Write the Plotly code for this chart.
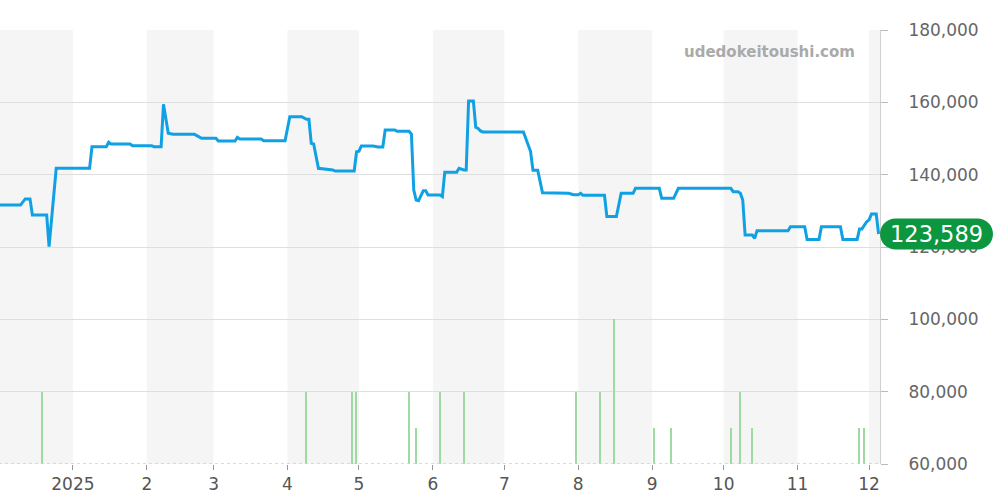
import plotly.graph_objects as go

# ---- data ----
price_dates = [
    "2024-12-01", "2024-12-10", "2024-12-12", "2024-12-14", "2024-12-15", "2024-12-21",
    "2024-12-22", "2024-12-25", "2025-01-08", "2025-01-09", "2025-01-15", "2025-01-16",
    "2025-01-17", "2025-01-25", "2025-01-26", "2025-02-03", "2025-02-04", "2025-02-07",
    "2025-02-08", "2025-02-10", "2025-02-12", "2025-02-21", "2025-02-24", "2025-03-02",
    "2025-03-03", "2025-03-10", "2025-03-11", "2025-03-12", "2025-03-21", "2025-03-22",
    "2025-03-31", "2025-04-02", "2025-04-07", "2025-04-09", "2025-04-10", "2025-04-11",
    "2025-04-12", "2025-04-14", "2025-04-20", "2025-04-21", "2025-04-29", "2025-04-30",
    "2025-05-01", "2025-05-02", "2025-05-07", "2025-05-09", "2025-05-11", "2025-05-12",
    "2025-05-16", "2025-05-17", "2025-05-22", "2025-05-23", "2025-05-24", "2025-05-25",
    "2025-05-26", "2025-05-28", "2025-05-29", "2025-05-30", "2025-06-04", "2025-06-05",
    "2025-06-06", "2025-06-11", "2025-06-12", "2025-06-14", "2025-06-15", "2025-06-16",
    "2025-06-18", "2025-06-19", "2025-06-20", "2025-06-21", "2025-06-22", "2025-07-09",
    "2025-07-11", "2025-07-12", "2025-07-13", "2025-07-15", "2025-07-17", "2025-07-22",
    "2025-07-28", "2025-07-30", "2025-08-01", "2025-08-02", "2025-08-03", "2025-08-12",
    "2025-08-13", "2025-08-17", "2025-08-19", "2025-08-24", "2025-08-25", "2025-09-04",
    "2025-09-05", "2025-09-10", "2025-09-12", "2025-10-04", "2025-10-05", "2025-10-07",
    "2025-10-08", "2025-10-09", "2025-10-10", "2025-10-13", "2025-10-14", "2025-10-15",
    "2025-10-28", "2025-10-29", "2025-11-04", "2025-11-05", "2025-11-10", "2025-11-11",
    "2025-11-19", "2025-11-20", "2025-11-26", "2025-11-27", "2025-11-28", "2025-11-30",
    "2025-12-01", "2025-12-02", "2025-12-04", "2025-12-05",
]
price_values = [
    131600, 131600, 133300, 133300, 128850, 128850,
    120100, 141750, 141750, 147730, 147730, 148950,
    148480, 148480, 148000, 148000, 147730, 147730,
    159450, 151430, 151150, 151150, 150050, 150050,
    149300, 149300, 150300, 149860, 149860, 149400,
    149400, 156030, 156030, 155300, 155300, 148660,
    148480, 141750, 141300, 141000, 141000, 146350,
    146500, 147900, 147900, 147650, 147650, 152350,
    152350, 151980, 151980, 151240, 135760, 133000,
    132800, 135570, 135570, 134380, 134380, 133920,
    140650, 140650, 141750, 141300, 141300, 160370,
    160370, 153100, 152800, 152100, 151800, 151800,
    148200, 146400, 141200, 141200, 135000, 134850,
    134850, 134460, 134460, 134850, 134300, 134300,
    128400, 128400, 134850, 134850, 136230, 136230,
    133460, 133460, 136230, 136230, 135290, 135290,
    134850, 133000, 123300, 123300, 122400, 124500,
    124500, 125600, 125600, 122100, 122100, 125600,
    125600, 122100, 122100, 125000, 125000, 127000,
    127500, 129100, 129100, 123589,
]

volume_dates = [
    "2024-12-19", "2025-04-09", "2025-04-28", "2025-04-30", "2025-05-22", "2025-05-25",
    "2025-06-04", "2025-06-14", "2025-07-31", "2025-08-10", "2025-08-16", "2025-09-02",
    "2025-09-09", "2025-10-04", "2025-10-08", "2025-10-13", "2025-11-27", "2025-11-29",
]
volume_values = [2, 2, 2, 2, 2, 1, 2, 2, 2, 2, 4, 1, 1, 1, 2, 1, 1, 1]
volume_baseline_dates = ["2024-12-01", "2025-12-05"]
volume_baseline_values = [0, 0]

month_starts = [
    "2024-12-01", "2025-01-01", "2025-02-01", "2025-03-01", "2025-04-01", "2025-05-01",
    "2025-06-01", "2025-07-01", "2025-08-01", "2025-09-01", "2025-10-01", "2025-11-01",
    "2025-12-01", "2026-01-01",
]
x_tick_vals = month_starts[1:13]
x_tick_text = ["2025", "2", "3", "4", "5", "6", "7", "8", "9", "10", "11", "12"]
y_tick_vals = [60000, 80000, 100000, 120000, 140000, 160000, 180000]
y_tick_text = ["60,000", "80,000", "100,000", "120,000", "140,000", "160,000", "180,000"]

x_range = ["2024-12-01 10:00", "2025-12-05 14:00"]
y_range = [60000, 180000]
last_price = price_values[-1]
watermark = "udedokeitoushi.com"

# ---- figure ----
fig = go.Figure()

fig.add_trace(go.Scatter(
    x=volume_baseline_dates, y=volume_baseline_values, yaxis="y2", mode="lines",
    line=dict(color="#b5e2b7", width=1.5, dash="dot"), hoverinfo="skip", showlegend=False,
))
fig.add_trace(go.Bar(
    x=volume_dates, y=volume_values, yaxis="y2",
    width=0.55 * 86400000, marker=dict(color="#9fdaa3", line=dict(width=0)),
    showlegend=False,
))
fig.add_trace(go.Scatter(
    x=price_dates, y=price_values, mode="lines",
    line=dict(color="#10a0e4", width=3), showlegend=False,
))

shapes = []
for i in range(0, len(month_starts) - 1, 2):
    shapes.append(dict(
        type="rect", xref="x", yref="paper", x0=month_starts[i], x1=month_starts[i + 1],
        y0=0, y1=1, fillcolor="#f5f5f5", line=dict(width=0), layer="below",
    ))

# price badge (pill) at right side
plot_w = 880.0
plot_h = 434.0
px_per_val = plot_h / (y_range[1] - y_range[0])
rx = 15.5 / plot_w
hy = 15.5 / px_per_val
xl = 1.0 + rx
xr = 993.0 / plot_w - rx
y0 = last_price
k = 0.5523
path = (
    f"M {xl},{y0 + hy} L {xr},{y0 + hy} "
    f"C {xr + k * rx},{y0 + hy} {xr + rx},{y0 + k * hy} {xr + rx},{y0} "
    f"C {xr + rx},{y0 - k * hy} {xr + k * rx},{y0 - hy} {xr},{y0 - hy} "
    f"L {xl},{y0 - hy} "
    f"C {xl - k * rx},{y0 - hy} {xl - rx},{y0 - k * hy} {xl - rx},{y0} "
    f"C {xl - rx},{y0 + k * hy} {xl - k * rx},{y0 + hy} {xl},{y0 + hy} Z"
)
shapes.append(dict(type="path", xref="paper", yref="y", path=path,
                   fillcolor="#0b963f", line=dict(width=0), layer="above"))

fig.update_layout(
    width=1000, height=500,
    margin=dict(l=0, r=120, t=30, b=36),
    paper_bgcolor="white", plot_bgcolor="white",
    font=dict(family="DejaVu Sans", size=17, color="#666"),
    shapes=shapes,
    bargap=0,
    xaxis=dict(
        type="date", range=x_range, tickvals=x_tick_vals, ticktext=x_tick_text,
        showgrid=False, zeroline=False, ticks="outside", ticklen=5, tickcolor="#999",
        tickfont=dict(size=17, color="#555"), showline=False,
    ),
    yaxis=dict(
        range=y_range, side="right", tickvals=y_tick_vals, ticktext=y_tick_text,
        showgrid=True, gridcolor="#dedede", gridwidth=1, zeroline=False,
        ticks="outside", ticklen=7, tickcolor="#bbb", showline=True, linecolor="#d0d0d0",
        tickfont=dict(size=17, color="#666"), ticklabelstandoff=17,
    ),
    yaxis2=dict(
        range=[0, 12], overlaying="y", side="left", visible=False,
    ),
    annotations=[
        dict(text=watermark, xref="paper", yref="paper", x=857 / plot_w, y=1 - 22 / plot_h,
             xanchor="right", yanchor="middle", showarrow=False,
             font=dict(family="DejaVu Sans", size=15, color="#aaaaaa", weight="bold")),
        dict(text=f"{last_price:,}", xref="paper", yref="y", x=936.5 / plot_w, y=last_price,
             xanchor="center", yanchor="middle", showarrow=False,
             font=dict(family="DejaVu Sans", size=22.5, color="white")),
    ],
)

fig.write_html("out.html", config={"displayModeBar": False},
               post_script="document.body.style.margin='0';")
